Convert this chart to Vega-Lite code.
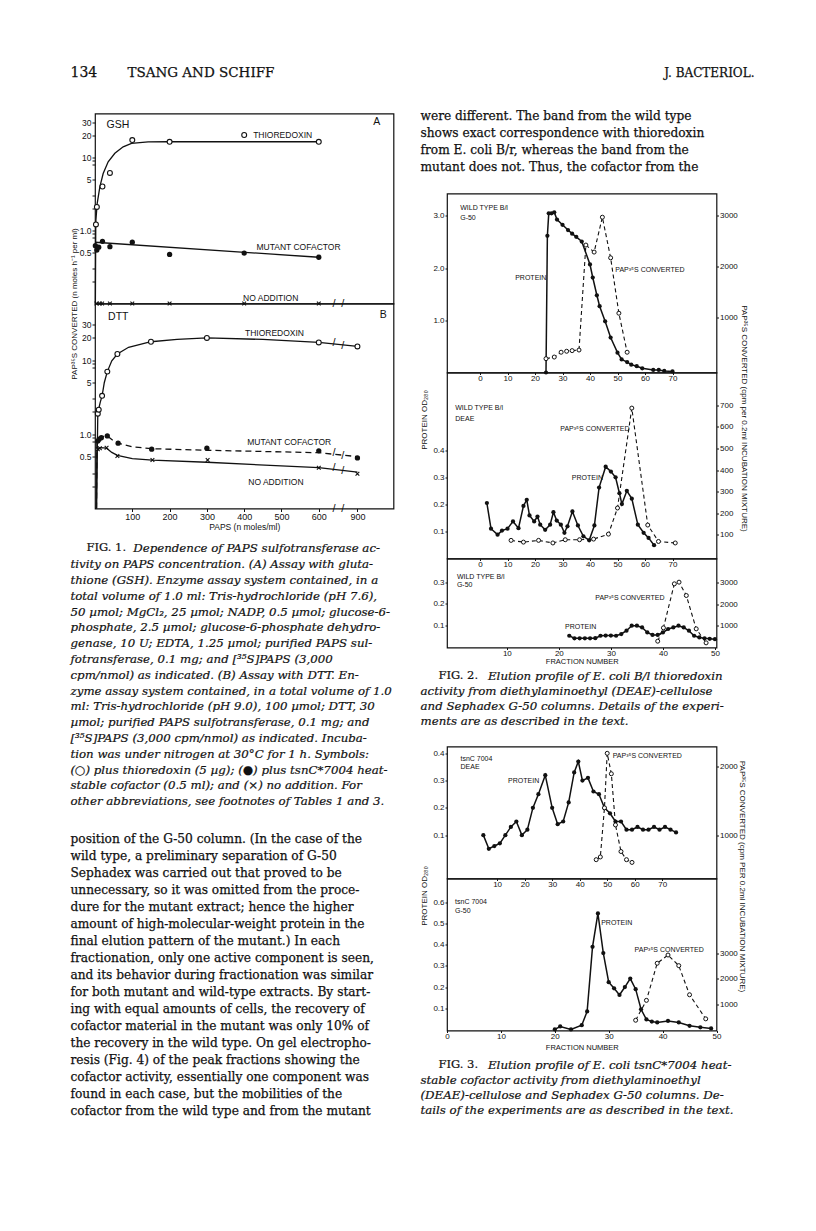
{
"$schema":"https://vega.github.io/schema/vega-lite/v6.json",
"background":"white",
"padding":{"left":69,"top":66,"right":5,"bottom":5},
"config":{
 "view":{"stroke":null},
 "font":"Liberation Sans",
 "axis":{"grid":false,"domain":false,"labelFont":"Liberation Sans","labelFontSize":8,"labelColor":"#111","tickColor":"#111","tickWidth":1,"titleFont":"Liberation Sans","titleFontWeight":"normal","titleFontSize":8,"titleColor":"#111","labelOverlap":false,"labelFlush":false,"labelBound":false},
 "text":{"color":"#111"}
},
"datasets":{
 "f1p":[
  {"p":"A","s":"thio","x":2.5,"v":1.21},{"p":"A","s":"thio","x":5,"v":2.1},{"p":"A","s":"thio","x":20,"v":4.0},{"p":"A","s":"thio","x":40,"v":6.15},{"p":"A","s":"thio","x":100,"v":17.3},{"p":"A","s":"thio","x":200,"v":16.4},{"p":"A","s":"thio","x":400,"v":20.3},{"p":"A","s":"thio","x":600,"v":16.4},
  {"p":"A","s":"mut","x":1,"v":0.62},{"p":"A","s":"mut","x":5,"v":0.54},{"p":"A","s":"mut","x":10,"v":0.59},{"p":"A","s":"mut","x":20,"v":0.71},{"p":"A","s":"mut","x":40,"v":0.6},{"p":"A","s":"mut","x":100,"v":0.69},{"p":"A","s":"mut","x":200,"v":0.47},{"p":"A","s":"mut","x":400,"v":0.49},{"p":"A","s":"mut","x":600,"v":0.43},
  {"p":"A","s":"none","x":4,"v":0.1},{"p":"A","s":"none","x":13,"v":0.1},{"p":"A","s":"none","x":19,"v":0.1},{"p":"A","s":"none","x":40,"v":0.1},{"p":"A","s":"none","x":100,"v":0.1},{"p":"A","s":"none","x":200,"v":0.1},{"p":"A","s":"none","x":400,"v":0.1},{"p":"A","s":"none","x":600,"v":0.1},
  {"p":"B","s":"thio","x":7.5,"v":1.9},{"p":"B","s":"thio","x":10,"v":2.15},{"p":"B","s":"thio","x":19,"v":3.3},{"p":"B","s":"thio","x":33,"v":7.0},{"p":"B","s":"thio","x":60,"v":12.1},{"p":"B","s":"thio","x":150,"v":17.7},{"p":"B","s":"thio","x":300,"v":19.9},{"p":"B","s":"thio","x":600,"v":17.3},{"p":"B","s":"thio","x":900,"v":15.3},
  {"p":"B","s":"mut","x":7.5,"v":0.81},{"p":"B","s":"mut","x":11,"v":0.86},{"p":"B","s":"mut","x":17,"v":0.9},{"p":"B","s":"mut","x":33,"v":0.95},{"p":"B","s":"mut","x":62,"v":0.76},{"p":"B","s":"mut","x":152,"v":0.63},{"p":"B","s":"mut","x":300,"v":0.65},{"p":"B","s":"mut","x":600,"v":0.6},{"p":"B","s":"mut","x":900,"v":0.48},
  {"p":"B","s":"none","x":7.5,"v":0.63},{"p":"B","s":"none","x":13,"v":0.65},{"p":"B","s":"none","x":31,"v":0.66},{"p":"B","s":"none","x":60,"v":0.51},{"p":"B","s":"none","x":154,"v":0.45},{"p":"B","s":"none","x":302,"v":0.45},{"p":"B","s":"none","x":600,"v":0.355},{"p":"B","s":"none","x":900,"v":0.295}
 ],
 "f1c":[
  {"p":"A","s":"thio","x":1,"v":0.1},{"p":"A","s":"thio","x":2,"v":1.1},{"p":"A","s":"thio","x":2.5,"v":1.4},{"p":"A","s":"thio","x":5.8,"v":2.33},{"p":"A","s":"thio","x":13,"v":3.95},{"p":"A","s":"thio","x":21.9,"v":6.02},{"p":"A","s":"thio","x":35.3,"v":8.72},{"p":"A","s":"thio","x":53.2,"v":11.4},{"p":"A","s":"thio","x":75.5,"v":14.0},{"p":"A","s":"thio","x":97.9,"v":15.6},{"p":"A","s":"thio","x":142.5,"v":16.3},{"p":"A","s":"thio","x":196,"v":16.4},{"p":"A","s":"thio","x":600,"v":16.4},
  {"p":"A","s":"mutA","x":0,"v":0.69},{"p":"A","s":"mutA","x":600,"v":0.43},
  {"p":"B","s":"thio","x":4,"v":0.1},{"p":"B","s":"thio","x":7.5,"v":1.9},{"p":"B","s":"thio","x":10,"v":2.2},{"p":"B","s":"thio","x":14,"v":2.7},{"p":"B","s":"thio","x":19,"v":3.3},{"p":"B","s":"thio","x":25,"v":5.0},{"p":"B","s":"thio","x":33,"v":7.0},{"p":"B","s":"thio","x":45,"v":9.8},{"p":"B","s":"thio","x":60,"v":12.1},{"p":"B","s":"thio","x":90,"v":14.9},{"p":"B","s":"thio","x":150,"v":17.7},{"p":"B","s":"thio","x":220,"v":19.1},{"p":"B","s":"thio","x":300,"v":19.9},{"p":"B","s":"thio","x":450,"v":19.0},{"p":"B","s":"thio","x":600,"v":17.3},{"p":"B","s":"thio","x":900,"v":15.3},
  {"p":"B","s":"none","x":4,"v":0.1},{"p":"B","s":"none","x":5,"v":0.6},{"p":"B","s":"none","x":7.5,"v":0.64},{"p":"B","s":"none","x":15,"v":0.66},{"p":"B","s":"none","x":31,"v":0.65},{"p":"B","s":"none","x":45,"v":0.57},{"p":"B","s":"none","x":60,"v":0.52},{"p":"B","s":"none","x":100,"v":0.47},{"p":"B","s":"none","x":154,"v":0.45},{"p":"B","s":"none","x":300,"v":0.42},{"p":"B","s":"none","x":600,"v":0.355},{"p":"B","s":"none","x":900,"v":0.31},
  {"p":"B","s":"mut","x":4,"v":0.1},{"p":"B","s":"mut","x":5,"v":0.75},{"p":"B","s":"mut","x":7.5,"v":0.82},{"p":"B","s":"mut","x":11,"v":0.87},{"p":"B","s":"mut","x":20,"v":0.93},{"p":"B","s":"mut","x":33,"v":0.95},{"p":"B","s":"mut","x":45,"v":0.85},{"p":"B","s":"mut","x":62,"v":0.76},{"p":"B","s":"mut","x":100,"v":0.68},{"p":"B","s":"mut","x":152,"v":0.64},{"p":"B","s":"mut","x":300,"v":0.61},{"p":"B","s":"mut","x":600,"v":0.565},{"p":"B","s":"mut","x":900,"v":0.5}
 ],
 "f1s":[
  {"p":"A","x":645,"v":0.1},{"p":"A","x":855,"v":0.1},
  {"p":"B","x":645,"v":0.1},{"p":"B","x":855,"v":0.1},{"p":"B","x":645,"v":17.0},{"p":"B","x":855,"v":15.6},{"p":"B","x":645,"v":0.56},{"p":"B","x":855,"v":0.51},{"p":"B","x":645,"v":0.35},{"p":"B","x":855,"v":0.317}
 ],
 "f1tag":[
  {"p":"A","x":31,"v":27.8,"t":"GSH"},{"p":"A","x":944,"v":31,"t":"A"},
  {"p":"B","x":35,"v":38.5,"t":"DTT"},{"p":"B","x":962,"v":41,"t":"B"}
 ],
 "f1lab":[
  {"p":"A","x":424,"v":20.3,"t":"THIOREDOXIN"},{"p":"A","x":433,"v":0.6,"t":"MUTANT COFACTOR"},{"p":"A","x":397,"v":0.12,"t":"NO ADDITION"},
  {"p":"B","x":402,"v":22.9,"t":"THIOREDOXIN"},{"p":"B","x":408,"v":0.8,"t":"MUTANT COFACTOR"},{"p":"B","x":411,"v":0.227,"t":"NO ADDITION"}
 ],
 "f2a_p":[{"f":24,"v":0},{"f":24.5,"v":2.62},{"f":25,"v":3.05},{"f":26,"v":3.05},{"f":27,"v":3.07},{"f":28,"v":2.93},{"f":30,"v":2.83},{"f":32,"v":2.73},{"f":33.5,"v":2.66},{"f":35,"v":2.6},{"f":37,"v":2.51},{"f":40,"v":2.07},{"f":41,"v":1.82},{"f":42.5,"v":1.48},{"f":43.5,"v":1.27},{"f":45.5,"v":0.98},{"f":47.5,"v":0.67},{"f":50,"v":0.38},{"f":51.5,"v":0.25},{"f":53.5,"v":0.2},{"f":55,"v":0.15},{"f":57,"v":0.12},{"f":59,"v":0.08},{"f":63,"v":0.05},{"f":65,"v":0.05},{"f":67,"v":0.03},{"f":70,"v":0.02}],
 "f2a_c":[{"f":24,"v":200},{"f":27,"v":232},{"f":29.5,"v":326},{"f":31.5,"v":345},{"f":33.5,"v":357},{"f":36,"v":369},{"f":38.5,"v":2419},{"f":41.5,"v":2282},{"f":44.5,"v":2963},{"f":47.5,"v":2170},{"f":50.5,"v":1088},{"f":53.5,"v":326}],
 "f2a_l":[{"f":-7.2,"v":3.16,"t":"WILD TYPE B/l"},{"f":-7.2,"v":2.97,"t":"G-50"},{"f":12.8,"v":1.82,"t":"PROTEIN"},{"f":49.2,"v":1.97,"t":"PAP³⁵S CONVERTED"}],
 "f2b_p":[{"f":2.5,"v":0.205},{"f":4,"v":0.11},{"f":6.4,"v":0.088},{"f":8,"v":0.103},{"f":10,"v":0.11},{"f":12,"v":0.137},{"f":14,"v":0.112},{"f":15.8,"v":0.194},{"f":17,"v":0.217},{"f":18,"v":0.159},{"f":19.7,"v":0.137},{"f":20.9,"v":0.155},{"f":21.9,"v":0.125},{"f":23.7,"v":0.106},{"f":25.5,"v":0.125},{"f":26.7,"v":0.171},{"f":27.9,"v":0.14},{"f":29.4,"v":0.125},{"f":30.7,"v":0.095},{"f":31.8,"v":0.119},{"f":33.6,"v":0.174},{"f":35.6,"v":0.122},{"f":37.6,"v":0.082},{"f":39.7,"v":0.067},{"f":41.6,"v":0.122},{"f":43.3,"v":0.262},{"f":45.7,"v":0.339},{"f":47.6,"v":0.321},{"f":49.3,"v":0.3},{"f":50.7,"v":0.241},{"f":51.6,"v":0.201},{"f":53.4,"v":0.25},{"f":55.2,"v":0.221},{"f":57.4,"v":0.125},{"f":59.5,"v":0.095},{"f":61.3,"v":0.076},{"f":63.3,"v":0.049}],
 "f2b_c":[{"f":11.3,"v":74},{"f":15.8,"v":66},{"f":21.3,"v":74},{"f":26.5,"v":62},{"f":31,"v":77},{"f":36.2,"v":77},{"f":41.3,"v":80},{"f":46.7,"v":103},{"f":50,"v":224},{"f":55.2,"v":687},{"f":61,"v":145},{"f":64.9,"v":69},{"f":71,"v":62}],
 "f2b_l":[{"f":-9,"v":0.556,"t":"WILD TYPE B/l"},{"f":-9,"v":0.517,"t":"DEAE"},{"f":29.2,"v":0.48,"t":"PAP³⁵S CONVERTED"},{"f":33.4,"v":0.296,"t":"PROTEIN"}],
 "f2c_p":[{"f":22,"v":0.054},{"f":23,"v":0.042},{"f":24,"v":0.042},{"f":25,"v":0.042},{"f":26,"v":0.042},{"f":27,"v":0.043},{"f":28,"v":0.054},{"f":29,"v":0.055},{"f":30,"v":0.055},{"f":31,"v":0.054},{"f":32,"v":0.062},{"f":33,"v":0.077},{"f":34,"v":0.1},{"f":35,"v":0.1},{"f":36,"v":0.092},{"f":37,"v":0.069},{"f":38,"v":0.058},{"f":39,"v":0.058},{"f":40,"v":0.069},{"f":41,"v":0.085},{"f":42,"v":0.092},{"f":43,"v":0.1},{"f":44,"v":0.092},{"f":45,"v":0.077},{"f":46,"v":0.054},{"f":47,"v":0.046},{"f":48,"v":0.042},{"f":49,"v":0.04},{"f":50,"v":0.038}],
 "f2c_c":[{"f":39,"v":266},{"f":40.1,"v":891},{"f":42.2,"v":2953},{"f":43.1,"v":3031},{"f":44.5,"v":2406},{"f":46.4,"v":844},{"f":48.3,"v":188}],
 "f2c_l":[{"f":0.4,"v":0.323,"t":"WILD TYPE B/l"},{"f":0.4,"v":0.285,"t":"G-50"},{"f":27,"v":0.226,"t":"PAP³⁵S CONVERTED"},{"f":21.2,"v":0.095,"t":"PROTEIN"}],
 "f3a_p":[{"f":5,"v":0.1},{"f":7,"v":0.05},{"f":9,"v":0.06},{"f":11,"v":0.07},{"f":13,"v":0.1},{"f":15,"v":0.13},{"f":17,"v":0.15},{"f":19,"v":0.1},{"f":21,"v":0.12},{"f":23,"v":0.2},{"f":25,"v":0.25},{"f":27.5,"v":0.32},{"f":30,"v":0.2},{"f":32,"v":0.14},{"f":34,"v":0.15},{"f":36,"v":0.22},{"f":38,"v":0.33},{"f":39.5,"v":0.37},{"f":41,"v":0.3},{"f":43,"v":0.31},{"f":45,"v":0.26},{"f":47,"v":0.25},{"f":49,"v":0.2},{"f":51,"v":0.18},{"f":53,"v":0.15},{"f":55,"v":0.15},{"f":57,"v":0.12},{"f":59,"v":0.12},{"f":61,"v":0.13},{"f":63,"v":0.12},{"f":65,"v":0.12},{"f":67,"v":0.13},{"f":69,"v":0.12},{"f":71,"v":0.13},{"f":73,"v":0.12},{"f":75,"v":0.11}],
 "f3a_c":[{"f":46,"v":640},{"f":47.5,"v":680},{"f":49,"v":1400},{"f":50,"v":2200},{"f":51.5,"v":1900},{"f":53,"v":1150},{"f":55,"v":760},{"f":57,"v":640},{"f":59,"v":600}],
 "f3a_l":[{"f":-3.3,"v":0.38,"t":"tsnC 7004"},{"f":-3.3,"v":0.35,"t":"DEAE"},{"f":14,"v":0.3,"t":"PROTEIN"},{"f":52,"v":0.39,"t":"PAP³⁵S CONVERTED"}],
 "f3b_p":[{"f":20,"v":0},{"f":21,"v":0.014},{"f":23,"v":0},{"f":25,"v":0.02},{"f":26,"v":0.085},{"f":27,"v":0.39},{"f":28,"v":0.547},{"f":29,"v":0.36},{"f":30,"v":0.223},{"f":31,"v":0.194},{"f":32,"v":0.163},{"f":33,"v":0.2},{"f":34,"v":0.24},{"f":35,"v":0.19},{"f":36,"v":0.095},{"f":37,"v":0.047},{"f":38,"v":0.037},{"f":39,"v":0.033},{"f":41,"v":0.04},{"f":43,"v":0.033},{"f":45,"v":0.017},{"f":47,"v":0.01},{"f":49,"v":0.005}],
 "f3b_c":[{"f":35,"v":365},{"f":37,"v":1150},{"f":39,"v":2615},{"f":41,"v":2940},{"f":43,"v":2520},{"f":45,"v":1370},{"f":48,"v":420}],
 "f3b_l":[{"f":1.5,"v":0.6,"t":"tsnC 7004"},{"f":1.5,"v":0.56,"t":"G-50"},{"f":28.6,"v":0.5,"t":"PROTEIN"},{"f":34.8,"v":0.377,"t":"PAP³⁵S CONVERTED"}]
},
"vconcat":[
 {"width":684,"height":14,
  "encoding":{"x":{"datum":0,"type":"quantitative","scale":{"domain":[0,1]},"axis":null}},
  "layer":[
   {"data":{"values":[{"t":"134"}]},"mark":{"type":"text","align":"left","baseline":"middle","dx":-24.5,"font":"DejaVu Serif","fontSize":14,"stroke":"#111","strokeWidth":0.25},"encoding":{"text":{"field":"t"}}},
   {"data":{"values":[{"t":"TSANG AND SCHIFF"}]},"mark":{"type":"text","align":"left","baseline":"middle","dx":-24.5,"font":"DejaVu Serif","fontSize":13.5,"stroke":"#111","strokeWidth":0.25},"encoding":{"x":{"datum":0.0833,"type":"quantitative"},"text":{"field":"t"}}},
   {"data":{"values":[{"t":"J. BACTERIOL."}]},"mark":{"type":"text","align":"right","baseline":"middle","dx":-24.5,"font":"DejaVu Serif","fontSize":12,"stroke":"#111","strokeWidth":0.25},"encoding":{"x":{"datum":1,"type":"quantitative"},"text":{"field":"t"}}}
  ]},
 {"hconcat":[
  {"vconcat":[
   {"width":1,"height":5.5,"data":{"values":[]},"mark":"point","encoding":{}},
   {"width":298.5,"height":190,"view":{"stroke":"#111","strokeWidth":1.2},
    "encoding":{
     "x":{"field":"x","type":"quantitative","scale":{"domain":[0,640,860,1000],"range":[0,238.7,248,298.5],"nice":false,"zero":false},"axis":null},
     "y":{"field":"v","type":"quantitative","scale":{"type":"log","domain":[0.1,40],"nice":false},"axis":{"orient":"left","values":[0.2,0.3,0.5,0.8,0.9,1,2,3,5,8,9,10,20,30],"labelExpr":"datum.value==30?'30':datum.value==20?'20':datum.value==10?'10':datum.value==5?'5':datum.value==1?'1.0':datum.value==0.5?'0.5':''","tickSize":3,"labelPadding":1,"labelFontSize":8.5,"title":"PAP³⁵S CONVERTED (n moles h⁻¹ per ml)","titleX":-24.5,"titleY":190,"titleBaseline":"top","titleAlign":"center","titleAngle":-90,"titleFontSize":8}}},
    "layer":[
     {"data":{"name":"f1c"},"transform":[{"filter":"datum.p=='A'"}],"mark":{"type":"line","color":"#111","strokeWidth":1.3},"encoding":{"detail":{"field":"s"}}},
     {"data":{"name":"f1p"},"transform":[{"filter":"datum.p=='A' && datum.s=='thio'"}],"mark":{"type":"point","filled":true,"fill":"white","stroke":"#111","strokeWidth":1.1,"size":24,"opacity":1}},
     {"data":{"name":"f1p"},"transform":[{"filter":"datum.p=='A' && datum.s=='mut'"}],"mark":{"type":"point","filled":true,"color":"#111","size":28,"opacity":1}},
     {"data":{"name":"f1p"},"transform":[{"filter":"datum.p=='A' && datum.s=='none'"}],"mark":{"type":"point","shape":"M-1,-1L1,1M-1,1L1,-1","filled":false,"stroke":"#111","strokeWidth":1.1,"size":14,"opacity":1}},
     {"data":{"values":[{}]},"mark":{"type":"rect","color":"white"},"encoding":{"x":{"datum":650},"x2":{"datum":850},"y":{"datum":0.095},"y2":{"datum":0.16}}},
     {"data":{"name":"f1s"},"transform":[{"filter":"datum.p=='A'"}],"mark":{"type":"text","text":"/","fontSize":11,"baseline":"middle","align":"center"}},
     {"data":{"name":"f1tag"},"transform":[{"filter":"datum.p=='A'"}],"mark":{"type":"text","align":"left","baseline":"middle","fontSize":10.5},"encoding":{"text":{"field":"t"}}},
     {"data":{"name":"f1lab"},"transform":[{"filter":"datum.p=='A'"}],"mark":{"type":"text","align":"left","baseline":"middle","fontSize":8.5},"encoding":{"text":{"field":"t"}}}
    ]},
   {"width":298.5,"height":205,"view":{"stroke":"#111","strokeWidth":1.2},
    "encoding":{
     "x":{"field":"x","type":"quantitative","scale":{"domain":[0,640,860,1000],"range":[0,238.7,248,298.5],"nice":false,"zero":false},"axis":{"orient":"bottom","values":[100,200,300,400,500,600,900],"tickSize":3,"labelPadding":1,"labelFontSize":9,"title":"PAPS (n moles/ml)","titlePadding":1,"titleFontSize":8.5}},
     "y":{"field":"v","type":"quantitative","scale":{"type":"log","domain":[0.1,58],"nice":false},"axis":{"orient":"left","values":[0.2,0.3,0.5,0.8,0.9,1,2,3,5,8,9,10,20,30],"labelExpr":"datum.value==30?'30':datum.value==20?'20':datum.value==10?'10':datum.value==5?'5':datum.value==1?'1.0':datum.value==0.5?'0.5':''","tickSize":3,"labelPadding":1,"labelFontSize":8.5,"title":null}}},
    "layer":[
     {"data":{"name":"f1c"},"transform":[{"filter":"datum.p=='B' && datum.s!='mut'"}],"mark":{"type":"line","color":"#111","strokeWidth":1.3},"encoding":{"detail":{"field":"s"}}},
     {"data":{"name":"f1c"},"transform":[{"filter":"datum.p=='B' && datum.s=='mut'"}],"mark":{"type":"line","color":"#111","strokeWidth":1.3,"strokeDash":[6,4]}},
     {"data":{"name":"f1p"},"transform":[{"filter":"datum.p=='B' && datum.s=='thio'"}],"mark":{"type":"point","filled":true,"fill":"white","stroke":"#111","strokeWidth":1.1,"size":24,"opacity":1}},
     {"data":{"name":"f1p"},"transform":[{"filter":"datum.p=='B' && datum.s=='mut'"}],"mark":{"type":"point","filled":true,"color":"#111","size":28,"opacity":1}},
     {"data":{"name":"f1p"},"transform":[{"filter":"datum.p=='B' && datum.s=='none'"}],"mark":{"type":"point","shape":"M-1,-1L1,1M-1,1L1,-1","filled":false,"stroke":"#111","strokeWidth":1.1,"size":14,"opacity":1}},
     {"data":{"values":[{}]},"mark":{"type":"rect","color":"white"},"encoding":{"x":{"datum":650},"x2":{"datum":850},"y":{"datum":0.095},"y2":{"datum":40}}},
     {"data":{"name":"f1s"},"transform":[{"filter":"datum.p=='B'"}],"mark":{"type":"text","text":"/","fontSize":11,"baseline":"middle","align":"center"}},
     {"data":{"name":"f1tag"},"transform":[{"filter":"datum.p=='B'"}],"mark":{"type":"text","align":"left","baseline":"middle","fontSize":10.5},"encoding":{"text":{"field":"t"}}},
     {"data":{"name":"f1lab"},"transform":[{"filter":"datum.p=='B'"}],"mark":{"type":"text","align":"left","baseline":"middle","fontSize":8.5},"encoding":{"text":{"field":"t"}}}
    ]},
   {"width":1,"height":31.1,"data":{"values":[]},"mark":"point","encoding":{}},
   {"width":306.5,"height":268.6,
    "encoding":{"x":{"datum":0,"type":"quantitative","scale":{"domain":[0,1]},"axis":null},"y":{"field":"i","type":"ordinal","axis":null,"scale":{"domain":[0,1,2,3,4,5,6,7,8,9,10,11,12,13,14,15,16]}},"text":{"field":"t"}},
    "layer":[
     {"data":{"values":[{"i":0,"t":"FIG. 1."}]},"mark":{"type":"text","align":"left","baseline":"middle","dx":-8.5,"font":"DejaVu Serif","fontSize":11.5,"stroke":"#111","strokeWidth":0.2}},
     {"data":{"values":[{"i":0,"t":"Dependence of PAPS sulfotransferase ac-"}]},"mark":{"type":"text","align":"left","baseline":"middle","dx":38.2,"font":"DejaVu Serif","fontSize":11.8,"fontStyle":"italic","stroke":"#111","strokeWidth":0.2}},
     {"data":{"values":[
      {"i":1,"t":"tivity on PAPS concentration. (A) Assay with gluta-"},
      {"i":2,"t":"thione (GSH). Enzyme assay system contained, in a"},
      {"i":3,"t":"total volume of 1.0 ml: Tris-hydrochloride (pH 7.6),"},
      {"i":4,"t":"50 µmol; MgCl₂, 25 µmol; NADP, 0.5 µmol; glucose-6-"},
      {"i":5,"t":"phosphate, 2.5 µmol; glucose-6-phosphate dehydro-"},
      {"i":6,"t":"genase, 10 U; EDTA, 1.25 µmol; purified PAPS sul-"},
      {"i":7,"t":"fotransferase, 0.1 mg; and [³⁵S]PAPS (3,000"},
      {"i":8,"t":"cpm/nmol) as indicated. (B) Assay with DTT. En-"},
      {"i":9,"t":"zyme assay system contained, in a total volume of 1.0"},
      {"i":10,"t":"ml: Tris-hydrochloride (pH 9.0), 100 µmol; DTT, 30"},
      {"i":11,"t":"µmol; purified PAPS sulfotransferase, 0.1 mg; and"},
      {"i":12,"t":"[³⁵S]PAPS (3,000 cpm/nmol) as indicated. Incuba-"},
      {"i":13,"t":"tion was under nitrogen at 30°C for 1 h. Symbols:"},
      {"i":14,"t":"(○) plus thioredoxin (5 µg); (●) plus tsnC*7004 heat-"},
      {"i":15,"t":"stable cofactor (0.5 ml); and (×) no addition. For"},
      {"i":16,"t":"other abbreviations, see footnotes of Tables 1 and 3."}
     ]},"mark":{"type":"text","align":"left","baseline":"middle","dx":-24.5,"font":"DejaVu Serif","fontSize":11.8,"fontStyle":"italic","stroke":"#111","strokeWidth":0.2}}
    ]},
   {"width":1,"height":20.8,"data":{"values":[]},"mark":"point","encoding":{}},
   {"width":306.5,"height":289,
    "data":{"values":[
     {"i":0,"t":"position of the G-50 column. (In the case of the"},
     {"i":1,"t":"wild type, a preliminary separation of G-50"},
     {"i":2,"t":"Sephadex was carried out that proved to be"},
     {"i":3,"t":"unnecessary, so it was omitted from the proce-"},
     {"i":4,"t":"dure for the mutant extract; hence the higher"},
     {"i":5,"t":"amount of high-molecular-weight protein in the"},
     {"i":6,"t":"final elution pattern of the mutant.) In each"},
     {"i":7,"t":"fractionation, only one active component is seen,"},
     {"i":8,"t":"and its behavior during fractionation was similar"},
     {"i":9,"t":"for both mutant and wild-type extracts. By start-"},
     {"i":10,"t":"ing with equal amounts of cells, the recovery of"},
     {"i":11,"t":"cofactor material in the mutant was only 10% of"},
     {"i":12,"t":"the recovery in the wild type. On gel electropho-"},
     {"i":13,"t":"resis (Fig. 4) of the peak fractions showing the"},
     {"i":14,"t":"cofactor activity, essentially one component was"},
     {"i":15,"t":"found in each case, but the mobilities of the"},
     {"i":16,"t":"cofactor from the wild type and from the mutant"}
    ]},
    "mark":{"type":"text","align":"left","baseline":"middle","dx":-24.5,"font":"DejaVu Serif","fontSize":12.2,"stroke":"#111","strokeWidth":0.25},
    "encoding":{"x":{"datum":0,"type":"quantitative","scale":{"domain":[0,1]},"axis":null},"y":{"field":"i","type":"ordinal","axis":null},"text":{"field":"t"}}}
  ],"spacing":0,"bounds":"flush"},
  {"vconcat":[
   {"width":313.5,"height":68,
    "data":{"values":[
     {"i":0,"t":"were different. The band from the wild type"},
     {"i":1,"t":"shows exact correspondence with thioredoxin"},
     {"i":2,"t":"from E. coli B/r, whereas the band from the"},
     {"i":3,"t":"mutant does not. Thus, the cofactor from the"}
    ]},
    "mark":{"type":"text","align":"left","baseline":"middle","dx":-26.5,"font":"DejaVu Serif","fontSize":12.2,"stroke":"#111","strokeWidth":0.25},
    "encoding":{"x":{"datum":0,"type":"quantitative","scale":{"domain":[0,1]},"axis":null},"y":{"field":"i","type":"ordinal","axis":null},"text":{"field":"t"}}},
   {"width":1,"height":17.5,"data":{"values":[]},"mark":"point","encoding":{}},
   {"width":269.5,"height":179,"view":{"stroke":"#111","strokeWidth":1.2},
    "encoding":{"x":{"field":"f","type":"quantitative","scale":{"domain":[-12,86],"nice":false,"zero":false},"axis":{"orient":"bottom","values":[0,10,20,30,40,50,60,70],"tickSize":2,"labelPadding":0,"title":null}}},
    "layer":[
     {"encoding":{"y":{"field":"v","type":"quantitative","scale":{"domain":[0,3.43],"nice":false,"zero":false},"axis":{"orient":"left","values":[1,2,3],"format":".1f","tickSize":2,"labelPadding":1,"title":null}}},
      "layer":[
       {"data":{"name":"f2a_p"},"mark":{"type":"line","color":"#111","strokeWidth":1.5}},
       {"data":{"name":"f2a_p"},"mark":{"type":"point","filled":true,"color":"#111","size":18,"opacity":1}},
       {"data":{"name":"f2a_l"},"mark":{"type":"text","align":"left","baseline":"middle","fontSize":7},"encoding":{"text":{"field":"t"}}}
      ]},
     {"data":{"name":"f2a_c"},
      "encoding":{"y":{"field":"v","type":"quantitative","scale":{"domain":[-70,3426],"nice":false,"zero":false},"axis":{"orient":"right","values":[1000,2000,3000],"format":"d","tickSize":2,"labelPadding":1,"title":null}}},
      "layer":[
       {"mark":{"type":"line","color":"#111","strokeWidth":1.1,"strokeDash":[4,3]}},
       {"mark":{"type":"point","filled":true,"fill":"white","stroke":"#111","strokeWidth":1,"size":16,"opacity":1}}
      ]}
    ],
    "resolve":{"scale":{"y":"independent"}}},
   {"width":269.5,"height":186,"view":{"stroke":"#111","strokeWidth":1.2},
    "encoding":{"x":{"field":"f","type":"quantitative","scale":{"domain":[-12,86],"nice":false,"zero":false},"axis":{"orient":"bottom","values":[0,10,20,30,40,50,60,70],"tickSize":2,"labelPadding":0,"title":null}}},
    "layer":[
     {"encoding":{"y":{"field":"v","type":"quantitative","scale":{"domain":[0,0.687],"nice":false,"zero":false},"axis":{"orient":"left","values":[0.1,0.2,0.3,0.4],"format":".1f","tickSize":2,"labelPadding":1,"title":"PROTEIN OD₂₈₀","titleX":-26.5,"titleY":47,"titleBaseline":"top","titleAlign":"center","titleAngle":-90}}},
      "layer":[
       {"data":{"name":"f2b_p"},"mark":{"type":"line","color":"#111","strokeWidth":1.5}},
       {"data":{"name":"f2b_p"},"mark":{"type":"point","filled":true,"color":"#111","size":18,"opacity":1}},
       {"data":{"name":"f2b_l"},"mark":{"type":"text","align":"left","baseline":"middle","fontSize":7},"encoding":{"text":{"field":"t"}}}
      ]},
     {"data":{"name":"f2b_c"},
      "encoding":{"y":{"field":"v","type":"quantitative","scale":{"domain":[-10,852],"nice":false,"zero":false},"axis":{"orient":"right","values":[100,200,300,400,500,600,700],"format":"d","tickSize":2,"labelPadding":1,"title":"PAP³⁵S CONVERTED (cpm per 0.2ml INCUBATION MIXTURE)","titleX":27,"titleY":45.5,"titleBaseline":"middle","titleAlign":"center","titleAngle":90}}},
      "layer":[
       {"mark":{"type":"line","color":"#111","strokeWidth":1.1,"strokeDash":[4,3]}},
       {"mark":{"type":"point","filled":true,"fill":"white","stroke":"#111","strokeWidth":1,"size":16,"opacity":1}}
      ]}
    ],
    "resolve":{"scale":{"y":"independent"}}},
   {"width":269.5,"height":89,"view":{"stroke":"#111","strokeWidth":1.2},
    "encoding":{"x":{"field":"f","type":"quantitative","scale":{"domain":[-1.5,50.3],"nice":false,"zero":false},"axis":{"orient":"bottom","values":[10,20,30,40,50],"tickSize":2,"labelPadding":0,"title":"FRACTION NUMBER","titlePadding":0,"titleFontSize":7.5}}},
    "layer":[
     {"encoding":{"y":{"field":"v","type":"quantitative","scale":{"domain":[0,0.409],"nice":false,"zero":false},"axis":{"orient":"left","values":[0.1,0.2,0.3],"format":".1f","tickSize":2,"labelPadding":1,"title":null}}},
      "layer":[
       {"data":{"name":"f2c_p"},"mark":{"type":"line","color":"#111","strokeWidth":1.5}},
       {"data":{"name":"f2c_p"},"mark":{"type":"point","filled":true,"color":"#111","size":18,"opacity":1}},
       {"data":{"name":"f2c_l"},"mark":{"type":"text","align":"left","baseline":"middle","fontSize":7},"encoding":{"text":{"field":"t"}}}
      ]},
     {"data":{"name":"f2c_c"},
      "encoding":{"y":{"field":"v","type":"quantitative","scale":{"domain":[-30,4140],"nice":false,"zero":false},"axis":{"orient":"right","values":[1000,2000,3000],"format":"d","tickSize":2,"labelPadding":1,"title":null}}},
      "layer":[
       {"mark":{"type":"line","color":"#111","strokeWidth":1.1,"strokeDash":[4,3]}},
       {"mark":{"type":"point","filled":true,"fill":"white","stroke":"#111","strokeWidth":1,"size":16,"opacity":1}}
      ]}
    ],
    "resolve":{"scale":{"y":"independent"}}},
   {"width":1,"height":20.5,"data":{"values":[]},"mark":"point","encoding":{}},
   {"width":313.5,"height":60,
    "encoding":{"x":{"datum":0,"type":"quantitative","scale":{"domain":[0,1]},"axis":null},"y":{"field":"i","type":"ordinal","axis":null,"scale":{"domain":[0,1,2,3]}},"text":{"field":"t"}},
    "layer":[
     {"data":{"values":[{"i":0,"t":"FIG. 2."}]},"mark":{"type":"text","align":"left","baseline":"middle","dx":-8.5,"font":"DejaVu Serif","fontSize":11.5,"stroke":"#111","strokeWidth":0.2}},
     {"data":{"values":[{"i":0,"t":"Elution profile of E. coli B/l thioredoxin"}]},"mark":{"type":"text","align":"left","baseline":"middle","dx":41,"font":"DejaVu Serif","fontSize":11.8,"fontStyle":"italic","stroke":"#111","strokeWidth":0.2}},
     {"data":{"values":[
      {"i":1,"t":"activity from diethylaminoethyl (DEAE)-cellulose"},
      {"i":2,"t":"and Sephadex G-50 columns. Details of the experi-"},
      {"i":3,"t":"ments are as described in the text."}
     ]},"mark":{"type":"text","align":"left","baseline":"middle","dx":-26.5,"font":"DejaVu Serif","fontSize":11.8,"fontStyle":"italic","stroke":"#111","strokeWidth":0.2}}
    ]},
   {"width":1,"height":17.5,"data":{"values":[]},"mark":"point","encoding":{}},
   {"width":269.5,"height":132,"view":{"stroke":"#111","strokeWidth":1.2},
    "encoding":{"x":{"field":"f","type":"quantitative","scale":{"domain":[-8.2,89.7],"nice":false,"zero":false},"axis":{"orient":"bottom","values":[10,20,30,40,50,60,70],"tickSize":2,"labelPadding":0,"title":null}}},
    "layer":[
     {"encoding":{"y":{"field":"v","type":"quantitative","scale":{"domain":[-0.059,0.425],"nice":false,"zero":false},"axis":{"orient":"left","values":[0.1,0.2,0.3,0.4],"format":".1f","tickSize":2,"labelPadding":1,"title":null}}},
      "layer":[
       {"data":{"name":"f3a_p"},"mark":{"type":"line","color":"#111","strokeWidth":1.5}},
       {"data":{"name":"f3a_p"},"mark":{"type":"point","filled":true,"color":"#111","size":18,"opacity":1}},
       {"data":{"name":"f3a_l"},"mark":{"type":"text","align":"left","baseline":"middle","fontSize":7},"encoding":{"text":{"field":"t"}}}
      ]},
     {"data":{"name":"f3a_c"},
      "encoding":{"y":{"field":"v","type":"quantitative","scale":{"domain":[364,2300],"nice":false,"zero":false},"axis":{"orient":"right","values":[1000,2000],"format":"d","tickSize":2,"labelPadding":1,"title":null}}},
      "layer":[
       {"mark":{"type":"line","color":"#111","strokeWidth":1.1,"strokeDash":[4,3]}},
       {"mark":{"type":"point","filled":true,"fill":"white","stroke":"#111","strokeWidth":1,"size":16,"opacity":1}}
      ]}
    ],
    "resolve":{"scale":{"y":"independent"}}},
   {"width":269.5,"height":152,"view":{"stroke":"#111","strokeWidth":1.2},
    "encoding":{"x":{"field":"f","type":"quantitative","scale":{"domain":[0,50],"nice":false,"zero":false},"axis":{"orient":"bottom","values":[0,10,20,30,40,50],"tickSize":2,"labelPadding":0,"title":"FRACTION NUMBER","titlePadding":3,"titleFontSize":7.5}}},
    "layer":[
     {"encoding":{"y":{"field":"v","type":"quantitative","scale":{"domain":[-0.005,0.712],"nice":false,"zero":false},"axis":{"orient":"left","values":[0.1,0.2,0.3,0.4,0.5,0.6],"format":".1f","tickSize":2,"labelPadding":1,"title":"PROTEIN OD₂₈₀","titleX":-26.5,"titleY":17,"titleBaseline":"top","titleAlign":"center","titleAngle":-90}}},
      "layer":[
       {"data":{"name":"f3b_p"},"mark":{"type":"line","color":"#111","strokeWidth":1.5}},
       {"data":{"name":"f3b_p"},"mark":{"type":"point","filled":true,"color":"#111","size":18,"opacity":1}},
       {"data":{"name":"f3b_l"},"mark":{"type":"text","align":"left","baseline":"middle","fontSize":7},"encoding":{"text":{"field":"t"}}}
      ]},
     {"data":{"name":"f3b_c"},
      "encoding":{"y":{"field":"v","type":"quantitative","scale":{"domain":[-40,5960],"nice":false,"zero":false},"axis":{"orient":"right","values":[1000,2000,3000],"format":"d","tickSize":2,"labelPadding":1,"title":"PAP³⁵S CONVERTED (cpm PER 0.2ml INCUBATION MIXTURE)","titleX":25,"titleY":-2.5,"titleBaseline":"middle","titleAlign":"center","titleAngle":90}}},
      "layer":[
       {"mark":{"type":"line","color":"#111","strokeWidth":1.1,"strokeDash":[4,3]}},
       {"mark":{"type":"point","filled":true,"fill":"white","stroke":"#111","strokeWidth":1,"size":16,"opacity":1}}
      ]}
    ],
    "resolve":{"scale":{"y":"independent"}}},
   {"width":1,"height":26.5,"data":{"values":[]},"mark":"point","encoding":{}},
   {"width":313.5,"height":60,
    "encoding":{"x":{"datum":0,"type":"quantitative","scale":{"domain":[0,1]},"axis":null},"y":{"field":"i","type":"ordinal","axis":null,"scale":{"domain":[0,1,2,3]}},"text":{"field":"t"}},
    "layer":[
     {"data":{"values":[{"i":0,"t":"FIG. 3."}]},"mark":{"type":"text","align":"left","baseline":"middle","dx":-8.5,"font":"DejaVu Serif","fontSize":11.5,"stroke":"#111","strokeWidth":0.2}},
     {"data":{"values":[{"i":0,"t":"Elution profile of E. coli tsnC*7004 heat-"}]},"mark":{"type":"text","align":"left","baseline":"middle","dx":41,"font":"DejaVu Serif","fontSize":11.8,"fontStyle":"italic","stroke":"#111","strokeWidth":0.2}},
     {"data":{"values":[
      {"i":1,"t":"stable cofactor activity from diethylaminoethyl"},
      {"i":2,"t":"(DEAE)-cellulose and Sephadex G-50 columns. De-"},
      {"i":3,"t":"tails of the experiments are as described in the text."}
     ]},"mark":{"type":"text","align":"left","baseline":"middle","dx":-26.5,"font":"DejaVu Serif","fontSize":11.8,"fontStyle":"italic","stroke":"#111","strokeWidth":0.2}}
    ]}
  ],"spacing":0,"bounds":"flush"}
 ],"spacing":17}
],
"spacing":27.5
}
